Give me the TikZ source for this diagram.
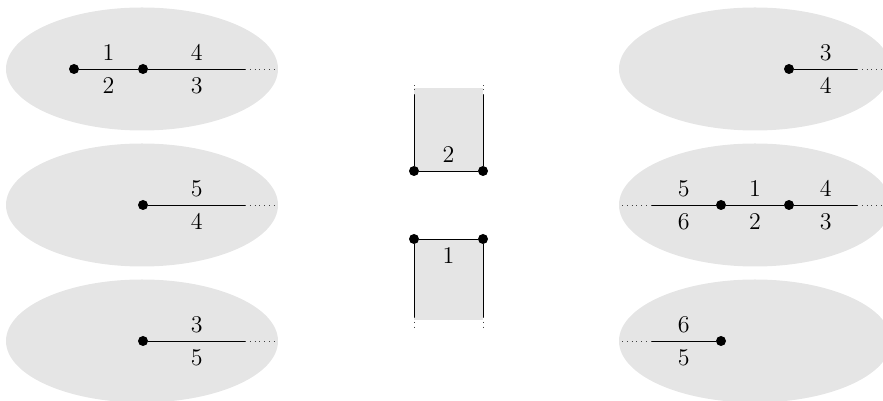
\documentclass[tikz,border=0pt]{standalone}
\usetikzlibrary{positioning}
\tikzset{
  vtx/.style={circle,fill=black,inner sep=0pt,minimum size=5pt},
  blob/.style={fill=black!10},
  toplab/.style={above,inner sep=3.8pt,font=\large},
  botlab/.style={below,inner sep=4.3pt,font=\large},
  tail/.style={dotted,black!75},
}
\begin{document}
\begin{tikzpicture}[x=0.5pt,y=0.5pt]
  \useasboundingbox (0,0) rectangle (883,401);

  % grey regions
  \foreach \yy in {60,196,332} {
    \fill[blob] (142,\yy) ellipse [x radius=68pt, y radius=30.75pt];
    \fill[blob] (755,\yy) ellipse [x radius=68pt, y radius=30.75pt];
  }
  \fill[blob] (414,230) rectangle (483,313);
  \fill[blob] (414,81) rectangle (483,162);

  % left column
  \node[vtx] (a1) at (74,332) {};
  \node[vtx] (a2) at (143,332) {};
  \coordinate (a3) at (245,332);
  \coordinate (a4) at (275,332);
  \draw (a1) -- node[toplab] {$1$} node[botlab] {$2$} (a2);
  \draw (a2) -- node[toplab] {$4$} node[botlab] {$3$} (a3);
  \draw[tail] (a3) -- (a4);

  \node[vtx] (b1) at (143,196) {};
  \coordinate (b2) at (245,196);
  \coordinate (b3) at (275,196);
  \draw (b1) -- node[toplab] {$5$} node[botlab] {$4$} (b2);
  \draw[tail] (b2) -- (b3);

  \node[vtx] (c1) at (143,60) {};
  \coordinate (c2) at (245,60);
  \coordinate (c3) at (275,60);
  \draw (c1) -- node[toplab] {$3$} node[botlab] {$5$} (c2);
  \draw[tail] (c2) -- (c3);

  % middle
  \node[vtx] (p1) at (414,230) {};
  \node[vtx] (p2) at (483,230) {};
  \coordinate (p3) at (414,306);
  \coordinate (p4) at (483,306);
  \coordinate (p5) at (414,318);
  \coordinate (p6) at (483,318);
  \draw (p1) -- node[toplab] {$2$} (p2);
  \draw (p1) -- (p3);
  \draw (p2) -- (p4);
  \draw[tail] (p3) -- (p5);
  \draw[tail] (p4) -- (p6);

  \node[vtx] (q1) at (414,162) {};
  \node[vtx] (q2) at (483,162) {};
  \coordinate (q3) at (414,84);
  \coordinate (q4) at (483,84);
  \coordinate (q5) at (414,74);
  \coordinate (q6) at (483,74);
  \draw (q1) -- node[botlab] {$1$} (q2);
  \draw (q1) -- (q3);
  \draw (q2) -- (q4);
  \draw[tail] (q3) -- (q5);
  \draw[tail] (q4) -- (q6);

  % right column
  \node[vtx] (d1) at (789,332) {};
  \coordinate (d2) at (857,332);
  \coordinate (d3) at (887,332);
  \draw (d1) -- node[toplab] {$3$} node[botlab] {$4$} (d2);
  \draw[tail] (d2) -- (d3);

  \coordinate (e0) at (622,196);
  \coordinate (e1) at (652,196);
  \node[vtx] (e2) at (721,196) {};
  \node[vtx] (e3) at (789,196) {};
  \coordinate (e4) at (857,196);
  \coordinate (e5) at (887,196);
  \draw[tail] (e0) -- (e1);
  \draw (e1) -- node[toplab] {$5$} node[botlab] {$6$} (e2);
  \draw (e2) -- node[toplab] {$1$} node[botlab] {$2$} (e3);
  \draw (e3) -- node[toplab] {$4$} node[botlab] {$3$} (e4);
  \draw[tail] (e4) -- (e5);

  \coordinate (f0) at (622,60);
  \coordinate (f1) at (652,60);
  \node[vtx] (f2) at (721,60) {};
  \draw[tail] (f0) -- (f1);
  \draw (f1) -- node[toplab] {$6$} node[botlab] {$5$} (f2);
\end{tikzpicture}
\end{document}
